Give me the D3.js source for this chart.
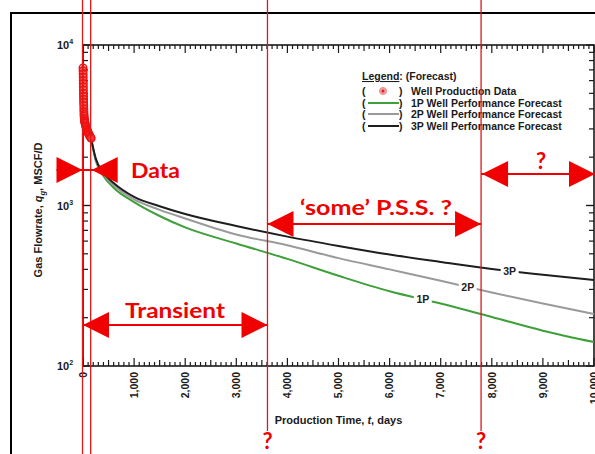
<!DOCTYPE html>
<html>
<head>
<meta charset="utf-8">
<script src="https://cdn.jsdelivr.net/npm/d3@7"></script>
<style>
  html, body { margin: 0; padding: 0; background: #fff; }
  svg { display: block; }
</style>
</head>
<body>
<svg id="chart" width="595" height="454"></svg>
<script>
// Production time (days) at which each forecast is tabulated
const forecastDays = [160, 250, 400, 600, 1000, 1500, 2000, 3000, 4000, 5000, 6000, 7000, 8000, 9000, 10000];
// Gas rate forecasts, MSCF/D
const rate1P = [2600, 1900, 1530, 1290, 1050, 860, 730, 580, 465, 365, 292, 245, 202, 166, 141];
const rate2P = [2600, 1930, 1570, 1340, 1090, 940, 830, 660, 565, 470, 400, 340, 287, 245, 211];
const rate3P = [2600, 1960, 1600, 1380, 1130, 990, 885, 745, 640, 560, 495, 445, 402, 370, 344];

// Measured well production data
const dataDays  = [1, 2, 3, 4, 5, 6, 7, 8, 9, 10, 11, 12, 14, 16, 18, 20, 22, 25, 28, 32, 36, 40, 50, 60, 70, 80, 90, 100, 110, 120, 135, 150, 160];
const dataRates = [7200, 6900, 6600, 6300, 6000, 5750, 5500, 5250, 5000, 4800, 4600, 4400, 4200, 4000, 3850, 3700, 3600, 3500, 3420, 3350, 3300, 3250, 3150, 3080, 3010, 2950, 2900, 2850, 2800, 2760, 2700, 2650, 2620];

// Axis ticks
const xTickValues = [0, 1000, 2000, 3000, 4000, 5000, 6000, 7000, 8000, 9000, 10000];
const xTickLabels = ["0", "1,000", "2,000", "3,000", "4,000", "5,000", "6,000", "7,000", "8,000", "9,000", "10,000"];
const yTickValues = [100, 1000, 10000];
const yTickExponents = ["2", "3", "4"];

// Flow-regime boundaries (days): start of data, end of data, end of transient, end of PSS
const regimeDays = [0, 160, 3620, 7800];

const legendItems = ["Well Production Data", "1P Well Performance Forecast", "2P Well Performance Forecast", "3P Well Performance Forecast"];

const svg = d3.select("#chart");
const W = 595, H = 454;

const x = d3.scaleLinear().domain([0, 10000]).range([83, 594]);
const y = d3.scaleLog().domain([100, 10000]).range([366, 45]);

const RED = "#f00000";
const LINE_RED = "#e01818";
const AXIS = "#1a1a1a";
const FONT = "'Liberation Sans', Arial, sans-serif";
const ANNO_FONT = "Lato, 'Open Sans', sans-serif";

// Outer frame
svg.append("path")
  .attr("d", `M11,${H + 2} L11,13 L${W + 2},13`)
  .attr("fill", "none").attr("stroke", "#000").attr("stroke-width", 2);

// Plot frame
const [x0, x1] = x.range();
const [yb, yt] = y.range();
svg.append("rect")
  .attr("x", x0).attr("y", yt).attr("width", x1 - x0).attr("height", yb - yt)
  .attr("fill", "none").attr("stroke", AXIS).attr("stroke-width", 1.6);

// Linear ticks on top and bottom edges
const xMinor = d3.range(0, 10001, 100);
function xTickLen(v) { return v % 1000 === 0 ? 8 : (v % 500 === 0 ? 6 : 4); }
const tickG = svg.append("g").attr("stroke", AXIS).attr("stroke-width", 1.2);
xMinor.forEach(v => {
  const px = x(v), L = xTickLen(v);
  tickG.append("line").attr("x1", px).attr("x2", px).attr("y1", yb).attr("y2", yb - L);
  tickG.append("line").attr("x1", px).attr("x2", px).attr("y1", yt).attr("y2", yt + L);
});

// Log ticks on left and right edges
const yMinor = [];
[100, 1000].forEach(d => { for (let k = 1; k <= 10; k++) yMinor.push(d * k); });
yMinor.forEach(v => {
  const py = y(v);
  const major = yTickValues.includes(v);
  const L = major ? 8 : 5;
  tickG.append("line").attr("x1", x0).attr("x2", x0 + L).attr("y1", py).attr("y2", py);
  tickG.append("line").attr("x1", x1).attr("x2", x1 - L).attr("y1", py).attr("y2", py);
});

// X tick labels (rotated)
xTickValues.forEach((v, i) => {
  svg.append("text")
    .attr("transform", `translate(${x(v)},${yb + 6}) rotate(-90)`)
    .attr("text-anchor", "end").attr("dy", "0.36em")
    .attr("font-family", FONT).attr("font-weight", "bold").attr("font-size", 10.5)
    .attr("fill", AXIS)
    .text(xTickLabels[i]);
});

// Y tick labels with exponents
yTickValues.forEach((v, i) => {
  const t = svg.append("text")
    .attr("x", 57).attr("y", y(v) + 4)
    .attr("font-family", FONT).attr("font-weight", "bold").attr("font-size", 11)
    .attr("fill", AXIS);
  t.append("tspan").text("10");
  t.append("tspan").attr("dy", -5).attr("font-size", 7).text(yTickExponents[i]);
});

// Axis titles
svg.append("text")
  .attr("x", (x0 + x1) / 2).attr("y", 424).attr("text-anchor", "middle")
  .attr("font-family", FONT).attr("font-weight", "bold").attr("font-size", 11).attr("fill", AXIS)
  .call(t => {
    t.append("tspan").text("Production Time, ");
    t.append("tspan").attr("font-style", "italic").text("t");
    t.append("tspan").text(", days");
  });

svg.append("text")
  .attr("transform", `translate(42,${210}) rotate(-90)`).attr("text-anchor", "middle")
  .attr("font-family", FONT).attr("font-weight", "bold").attr("font-size", 11).attr("fill", AXIS)
  .call(t => {
    t.append("tspan").text("Gas Flowrate, ");
    t.append("tspan").attr("font-style", "italic").text("q");
    t.append("tspan").attr("font-style", "italic").attr("font-size", 7.5).attr("dy", 3).text("g");
    t.append("tspan").attr("dy", -3).text(", MSCF/D");
  });

// Forecast curves
const series = [
  { name: "1P", rates: rate1P, color: "#3f9f3a", labelDay: 6650 },
  { name: "2P", rates: rate2P, color: "#9a9a9a", labelDay: 7530 },
  { name: "3P", rates: rate3P, color: "#1e1e1e", labelDay: 8350 }
];
const line = d3.line()
  .x(d => x(d[0])).y(d => y(d[1]))
  .curve(d3.curveMonotoneX);

series.forEach(s => {
  svg.append("path")
    .datum(forecastDays.map((d, i) => [d, s.rates[i]]))
    .attr("d", line)
    .attr("fill", "none").attr("stroke", s.color).attr("stroke-width", 2);
});

// Series labels sitting on their curves
function rateAt(rates, day) {
  const i = d3.bisectRight(forecastDays, day) - 1;
  const a = forecastDays[i], b = forecastDays[i + 1];
  const f = (day - a) / (b - a);
  return Math.exp(Math.log(rates[i]) * (1 - f) + Math.log(rates[i + 1]) * f);
}
series.forEach(s => {
  const px = x(s.labelDay), py = y(rateAt(s.rates, s.labelDay));
  svg.append("rect").attr("x", px - 9).attr("y", py - 6).attr("width", 18).attr("height", 11).attr("fill", "#fff");
  svg.append("text")
    .attr("x", px).attr("y", py + 4).attr("text-anchor", "middle")
    .attr("font-family", FONT).attr("font-weight", "bold").attr("font-size", 10.5).attr("fill", "#222")
    .text(s.name);
});

// Production data
svg.append("g").selectAll("circle")
  .data(dataDays.map((d, i) => [d, dataRates[i]]))
  .join("circle")
  .attr("cx", d => x(d[0])).attr("cy", d => y(d[1])).attr("r", 3.8)
  .attr("fill", "rgba(255,60,60,0.4)").attr("stroke", "#f01010").attr("stroke-width", 1.4);

// Legend
const lg = svg.append("g").attr("font-family", FONT).attr("font-weight", "bold").attr("font-size", 10.5).attr("fill", "#1a1a1a");
lg.append("text").attr("x", 362).attr("y", 80)
  .call(t => {
    t.append("tspan").attr("text-decoration", "underline").text("Legend");
    t.append("tspan").text(": (Forecast)");
  });
const rowY = [91, 103, 114, 126];
legendItems.forEach((label, i) => {
  const ry = rowY[i];
  lg.append("text").attr("x", 362).attr("y", ry + 4).text("(");
  lg.append("text").attr("x", 399).attr("y", ry + 4).text(")");
  lg.append("text").attr("x", 411).attr("y", ry + 4).text(label);
  if (i === 0) {
    lg.append("circle").attr("cx", 383).attr("cy", ry).attr("r", 3.5).attr("fill", "#f3a0a0").attr("stroke", "#e88").attr("stroke-width", 1);
    lg.append("circle").attr("cx", 383).attr("cy", ry).attr("r", 1.5).attr("fill", "#e02020");
  } else {
    lg.append("line").attr("x1", 368).attr("x2", 399).attr("y1", ry).attr("y2", ry)
      .attr("stroke", series[i - 1].color).attr("stroke-width", 2);
  }
});

// Regime boundary lines
const bottomEnds = [H, H, 431, 431];
regimeDays.forEach((d, i) => {
  svg.append("line")
    .attr("x1", x(d) - 0.5).attr("x2", x(d) - 0.5).attr("y1", 0).attr("y2", bottomEnds[i])
    .attr("stroke", LINE_RED).attr("stroke-width", 1.3);
});

// Double-headed arrows
function arrowHead(tipX, cy, dir) {
  // dir = +1 points right, -1 points left
  const len = 26, half = 13;
  svg.append("path")
    .attr("d", `M${tipX},${cy} L${tipX - dir * len},${cy - half} L${tipX - dir * len},${cy + half} Z`)
    .attr("fill", RED);
}
function hLine(xa, xb, cy) {
  svg.append("line").attr("x1", xa).attr("x2", xb).attr("y1", cy).attr("y2", cy)
    .attr("stroke", RED).attr("stroke-width", 2);
}
function annoText(txt, px, py, size, width) {
  const t = svg.append("text").attr("x", px).attr("y", py).attr("text-anchor", "middle")
    .attr("font-family", ANNO_FONT).attr("font-weight", "bold").attr("font-size", size)
    .attr("fill", RED).text(txt);
  if (width) t.attr("textLength", width).attr("lengthAdjust", "spacingAndGlyphs");
}

// Data window: arrows pointing inward
const dA = x(regimeDays[0]) - 0.5, dB = x(regimeDays[1]) - 0.5;
hLine(dA - 26, dB + 26, 170);
arrowHead(dA, 170, 1);
arrowHead(dB + 1, 170, -1);
svg.append("text").attr("x", 131).attr("y", 178)
  .attr("font-family", ANNO_FONT).attr("font-weight", "bold").attr("font-size", 21)
  .attr("fill", RED).attr("textLength", 49).attr("lengthAdjust", "spacingAndGlyphs").text("Data");

// Transient
const tA = x(regimeDays[0]), tB = x(regimeDays[2]) - 0.5;
hLine(tA, tB, 325);
arrowHead(tA, 325, -1);
arrowHead(tB, 325, 1);
annoText("Transient", 175, 318, 21, 100);

// Pseudo-steady state
const pA = x(regimeDays[2]) - 0.5, pB = x(regimeDays[3]) - 0.5;
hLine(pA, pB, 224);
arrowHead(pA, 224, -1);
arrowHead(pB, 224, 1);
annoText("\u2018some\u2019 P.S.S. ?", 376, 215, 21, 152);

// Beyond
hLine(pB, W, 174);
arrowHead(pB + 1, 174, -1);
arrowHead(W, 174, 1);
annoText("?", 541, 169, 22);

// Question marks under the boundaries
annoText("?", x(regimeDays[2]) - 0.5, 449, 22);
annoText("?", x(regimeDays[3]) - 0.5, 449, 22);
</script>
</body>
</html>
